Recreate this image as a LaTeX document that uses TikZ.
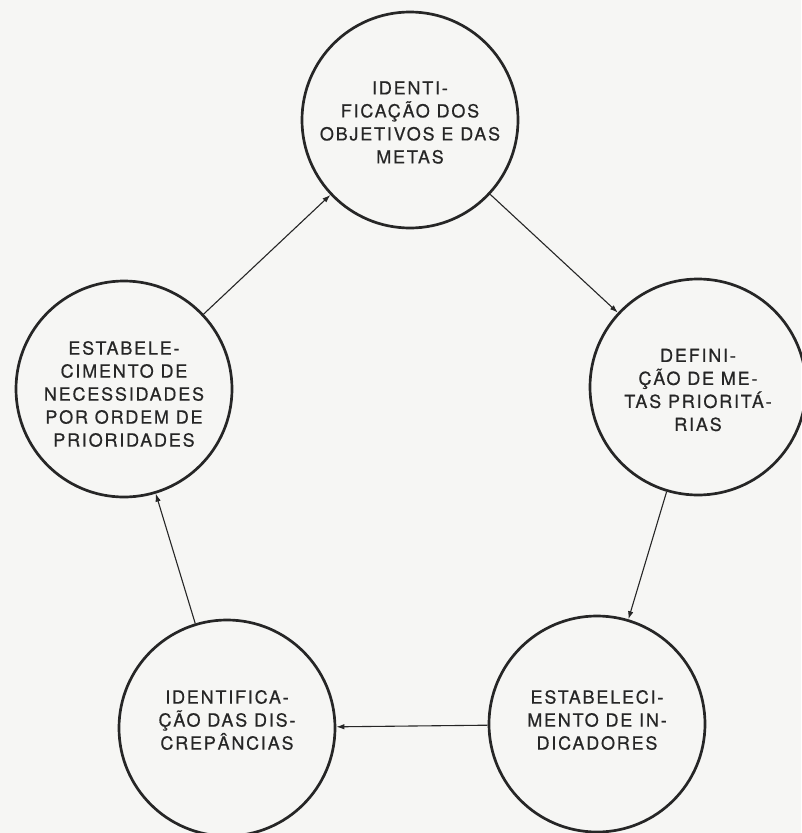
\documentclass[tikz,border=0pt]{standalone}
\usepackage{fontspec}
\usetikzlibrary{arrows.meta}
\newfontfamily\stagefont[LetterSpace=10, FakeBold=0.6]{TeX Gyre Heros}
\definecolor{ink}{HTML}{262626}
\definecolor{paper}{HTML}{F6F6F4}
\tikzset{
  stage/.style={circle, draw=ink, line width=2.7pt, minimum size=216pt,
    inner sep=0pt},
  stagetext/.style={align=center, text=ink, inner sep=0pt,
    font=\stagefont\fontsize{18}{23}\selectfont},
  flow/.style={draw=ink, line width=1.1pt,
    -{Latex[length=8pt,width=5.5pt]}}
}
\begin{document}
\begin{tikzpicture}[x=1pt,y=-1pt]
  \fill[paper] (0,0) rectangle (801,833);
  \useasboundingbox (0,0) rectangle (801,833);

  % stages of the cycle; each caption sits near the centre of its circle
  \node[stage, label={[stagetext, yshift=-2.5pt]center:{IDENTI-\\FICAÇÃO DOS\\OBJETIVOS E DAS\\METAS}}] (obj) at (410,120) {};
  \node[stage, label={[stagetext, yshift=-3pt]center:{DEFINI-\\ÇÃO DE ME-\\TAS PRIORITÁ-\\RIAS}}] (def) at (698,387) {};
  \node[stage, label={[stagetext, yshift=4pt]center:{ESTABELECI-\\MENTO DE IN-\\DICADORES}}] (ind) at (597,724) {};
  \node[stage, label={[stagetext, yshift=8pt]center:{IDENTIFICA-\\ÇÃO DAS DIS-\\CREPÂNCIAS}}] (disc) at (227,728) {};
  \node[stage, label={[stagetext, yshift=-5pt]center:{ESTABELE-\\CIMENTO DE\\NECESSIDADES\\POR ORDEM DE\\PRIORIDADES}}] (nec) at (124,389) {};

  % arrows running round the cycle
  \draw[flow] (nec)  -- (obj);
  \draw[flow] (obj)  -- (def);
  \draw[flow] (def)  -- (ind);
  \draw[flow] (ind)  -- (disc);
  \draw[flow] (disc) -- (nec);
\end{tikzpicture}
\end{document}
